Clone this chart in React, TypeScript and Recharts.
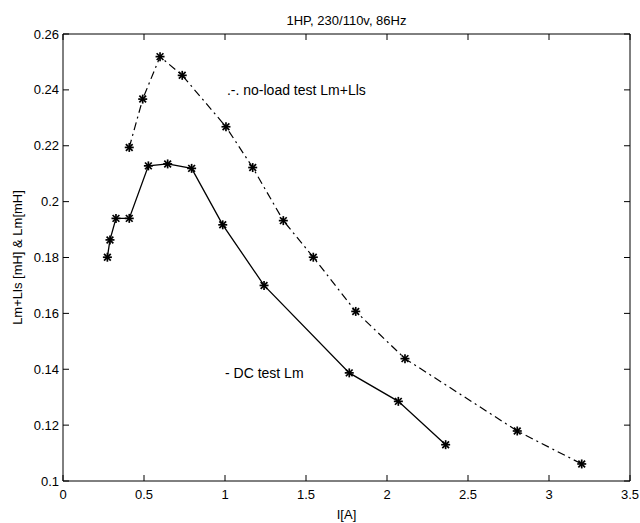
import React from 'react';
import { LineChart, Line, XAxis, YAxis, ReferenceDot, Label } from 'recharts';

// ---- data ----
const noLoadCurrent = [0.409, 0.492, 0.599, 0.736, 1.006, 1.171, 1.36, 1.545, 1.807, 2.111, 2.804, 3.202];
const noLoadInductance = [0.2194, 0.2367, 0.2519, 0.2452, 0.2268, 0.2122, 0.1932, 0.1801, 0.1607, 0.1438, 0.1179, 0.1061];
const dcCurrent = [0.274, 0.29, 0.327, 0.409, 0.527, 0.646, 0.794, 0.986, 1.241, 1.767, 2.07, 2.362];
const dcInductance = [0.1801, 0.1863, 0.194, 0.194, 0.2128, 0.2135, 0.2119, 0.1917, 0.17, 0.1387, 0.1285, 0.113];

const xTicks = [0, 0.5, 1, 1.5, 2, 2.5, 3, 3.5];
const yTicks = [0.1, 0.12, 0.14, 0.16, 0.18, 0.2, 0.22, 0.24, 0.26];

const titleText = '1HP, 230/110v, 86Hz';
const xLabelText = 'I[A]';
const yLabelText = 'Lm+Lls [mH] & Lm[mH]';
const noLoadNote = '.-.  no-load test Lm+Lls';
const dcNote = '- DC test Lm';
const noLoadNoteAt = { x: 1.012, y: 0.24 };
const dcNoteAt = { x: 1.0, y: 0.1387 };

const noLoadData = noLoadCurrent.map((c, i) => ({ I: c, L: noLoadInductance[i] }));
const dcData = dcCurrent.map((c, i) => ({ I: c, L: dcInductance[i] }));

const FONT = '"Liberation Sans", Arial, Helvetica, sans-serif';
const TICK_LEN = 6;

const Star = (props: any) => {
  const { cx, cy } = props;
  if (cx == null || cy == null) return null;
  const r = 4.5;
  const d = r * 0.75;
  return (
    <g stroke="#000" strokeWidth={1.7}>
      <line x1={cx} y1={cy - r} x2={cx} y2={cy + r} />
      <line x1={cx - d} y1={cy - d} x2={cx + d} y2={cy + d} />
      <line x1={cx - d} y1={cy + d} x2={cx + d} y2={cy - d} />
      <line x1={cx - r} y1={cy} x2={cx + r} y2={cy} />
    </g>
  );
};

const BottomTick = (props: any) => {
  const { x, y, payload } = props;
  return (
    <g>
      <line x1={x} x2={x} y1={y} y2={y - TICK_LEN} stroke="#000" strokeWidth={1} />
      <text x={x} y={y + 9} dy="0.71em" textAnchor="middle" fontSize={13} fontFamily={FONT} fill="#000">
        {String(payload.value)}
      </text>
    </g>
  );
};

const TopTick = (props: any) => {
  const { x, y } = props;
  return <line x1={x} x2={x} y1={y} y2={y + TICK_LEN} stroke="#000" strokeWidth={1} />;
};

const LeftTick = (props: any) => {
  const { x, y, payload } = props;
  return (
    <g>
      <line x1={x} x2={x + TICK_LEN} y1={y} y2={y} stroke="#000" strokeWidth={1} />
      <text x={x - 4} y={y} dy="0.35em" textAnchor="end" fontSize={13} fontFamily={FONT} fill="#000">
        {String(payload.value)}
      </text>
    </g>
  );
};

const RightTick = (props: any) => {
  const { x, y } = props;
  return <line x1={x} x2={x - TICK_LEN} y1={y} y2={y} stroke="#000" strokeWidth={1} />;
};

const NoteShape = (text: string) => (props: any) => (
  <text x={props.cx} y={props.cy} dy="0.35em" textAnchor="start" fontSize={14} fontFamily={FONT} fill="#000">
    {text}
  </text>
);

const YLabel = (props: any) => {
  const vb = props.viewBox || {};
  const cx = 17;
  const cy = (vb.y ?? 0) + (vb.height ?? 0) / 2;
  return (
    <text x={cx} y={cy} transform={`rotate(-90, ${cx}, ${cy})`} textAnchor="middle" dy="0.35em" fontSize={13} fontFamily={FONT} fill="#000">
      {yLabelText}
    </text>
  );
};

export default function App() {
  return (
    <div style={{ position: 'absolute', left: 0, top: 0, width: 640, height: 523, background: '#fff' }}>
      <LineChart width={640} height={523} margin={{ top: 33, right: 9, bottom: 0, left: 0 }}>
        <XAxis
          xAxisId="bottom"
          dataKey="I"
          type="number"
          domain={[0, 3.5]}
          ticks={xTicks}
          interval={0}
          allowDataOverflow
          height={42}
          tickSize={0}
          tickMargin={0}
          tickLine={false}
          axisLine={{ stroke: '#000', strokeWidth: 1 }}
          tick={<BottomTick />}
        >
          <Label value={xLabelText} position="insideBottom" offset={4} fontSize={13} fontFamily={FONT} fill="#000" />
        </XAxis>
        <XAxis
          xAxisId="top"
          dataKey="I"
          orientation="top"
          type="number"
          domain={[0, 3.5]}
          ticks={xTicks}
          interval={0}
          allowDataOverflow
          height={1}
          tickSize={0}
          tickMargin={0}
          tickLine={false}
          axisLine={{ stroke: '#000', strokeWidth: 1 }}
          tick={<TopTick />}
        >
          <Label value={titleText} position="top" offset={8} fontSize={13} fontFamily={FONT} fill="#000" />
        </XAxis>
        <YAxis
          yAxisId="left"
          type="number"
          domain={[0.1, 0.26]}
          ticks={yTicks}
          interval={0}
          allowDataOverflow
          width={63}
          tickSize={0}
          tickMargin={0}
          tickLine={false}
          axisLine={{ stroke: '#000', strokeWidth: 1 }}
          tick={<LeftTick />}
        >
          <Label content={<YLabel />} />
        </YAxis>
        <YAxis
          yAxisId="right"
          orientation="right"
          type="number"
          domain={[0.1, 0.26]}
          ticks={yTicks}
          interval={0}
          allowDataOverflow
          width={1}
          tickSize={0}
          tickMargin={0}
          tickLine={false}
          axisLine={{ stroke: '#000', strokeWidth: 1 }}
          tick={<RightTick />}
        />
        <Line
          data={noLoadData}
          xAxisId="top"
          yAxisId="right"
          dataKey="L"
          type="linear"
          stroke="#000"
          strokeWidth={1.2}
          strokeDasharray="8 4 2 4"
          dot={<Star />}
          activeDot={false}
          isAnimationActive={false}
        />
        <Line
          data={dcData}
          xAxisId="bottom"
          yAxisId="left"
          dataKey="L"
          type="linear"
          stroke="#000"
          strokeWidth={1.3}
          dot={<Star />}
          activeDot={false}
          isAnimationActive={false}
        />
        <ReferenceDot xAxisId="bottom" yAxisId="left" x={noLoadNoteAt.x} y={noLoadNoteAt.y} r={0} shape={NoteShape(noLoadNote)} />
        <ReferenceDot xAxisId="bottom" yAxisId="left" x={dcNoteAt.x} y={dcNoteAt.y} r={0} shape={NoteShape(dcNote)} />
      </LineChart>
    </div>
  );
}
